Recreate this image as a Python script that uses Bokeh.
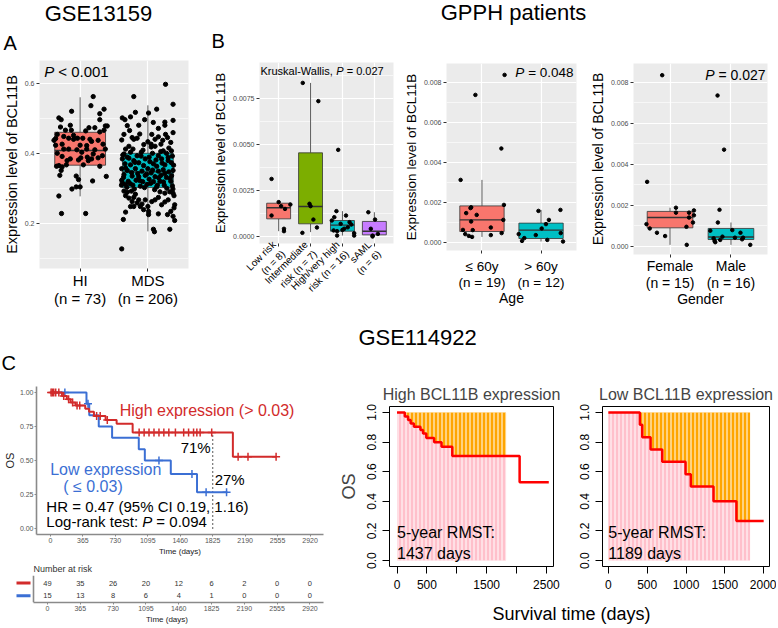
import math
import numpy as np
from bokeh.plotting import figure
from bokeh.layouts import column, row
from bokeh.models import Range1d, FixedTicker, PrintfTickFormatter, LinearAxis
from bokeh.core.properties import value
from bokeh.embed import file_html
from bokeh.resources import INLINE

FONT = "Liberation Sans"
BG = "#EBEBEB"
GG2 = ["#F8766D", "#00BFC4"]
GG4 = ["#F8766D", "#7CAE00", "#00BFC4", "#C77CFF"]
RED_KM = "#D22B2B"
BLUE_KM = "#3B6FD4"

# ---------------- Panel A: GSE13159 ----------------
a_groups = ["HI", "MDS"]
a_n = [73, 206]
a_q1 = [0.366, 0.302]
a_med = [0.408, 0.347]
a_q3 = [0.460, 0.400]
a_wlo = [0.277, 0.177]
a_whi = [0.560, 0.537]
# (jitter, value) pairs
a_hi_pts = [(0.193, 0.562), (0.159, 0.536), (0.353, 0.526), (0.290, 0.513), (-0.126, 0.520), (-0.314, 0.501),
            (-0.280, 0.496), (0.290, 0.496), (0.372, 0.478), (0.400, 0.478), (-0.290, 0.475), (-0.145, 0.480),
            (-0.217, 0.466), (-0.130, 0.466), (0.130, 0.473), (0.217, 0.473), (0.082, 0.464), (0.290, 0.461),
            (0.353, 0.466), (-0.338, 0.454), (-0.362, 0.442), (-0.386, 0.437), (-0.242, 0.448), (-0.169, 0.443),
            (-0.039, 0.443), (-0.097, 0.440), (0.039, 0.443), (0.145, 0.440), (0.169, 0.434), (0.266, 0.437),
            (-0.362, 0.423), (-0.266, 0.426), (0.0, 0.423), (0.097, 0.422), (-0.169, 0.412), (-0.048, 0.410),
            (0.097, 0.412), (0.217, 0.410), (0.372, 0.412), (-0.338, 0.400), (-0.145, 0.384), (0.010, 0.387),
            (-0.266, 0.391), (0.106, 0.389), (0.169, 0.384), (0.266, 0.387), (0.329, 0.393), (-0.024, 0.381),
            (0.121, 0.379), (-0.348, 0.363), (-0.314, 0.365), (-0.266, 0.361), (-0.203, 0.367), (0.048, 0.367),
            (0.290, 0.363), (-0.280, 0.351), (-0.300, 0.337), (-0.058, 0.335), (0.386, 0.334), (-0.024, 0.325),
            (0.184, 0.321), (-0.058, 0.304), (0.0, 0.304), (-0.121, 0.298), (-0.314, 0.278), (-0.275, 0.228),
            (0.082, 0.228), (-0.242, 0.412), (-0.097, 0.451), (0.193, 0.398), (0.338, 0.426), (-0.193, 0.379),
            (0.024, 0.403)]
a_mds_pts = [(0.261, 0.597), (-0.208, 0.562), (0.372, 0.540), (0.130, 0.526), (-0.184, 0.517), (-0.377, 0.501),
             (-0.338, 0.496), (-0.256, 0.504), (0.010, 0.515), (-0.048, 0.496), (0.251, 0.489), (0.372, 0.494),
             (-0.135, 0.480), (0.155, 0.471), (0.251, 0.480), (-0.304, 0.479), (-0.353, 0.454), (-0.386, 0.438),
             (-0.232, 0.445), (-0.159, 0.443), (-0.208, 0.440), (0.058, 0.454), (0.106, 0.440), (0.155, 0.447),
             (0.261, 0.454), (0.372, 0.459), (0.048, 0.426), (0.106, 0.420), (0.193, 0.426), (0.338, 0.431),
             (-0.280, 0.420), (-0.329, 0.412), (-0.072, 0.409), (0.0, 0.433), (0.227, 0.407), (0.348, 0.407),
             (-0.353, 0.398), (-0.256, 0.403), (-0.159, 0.393), (-0.097, 0.403), (0.068, 0.400), (0.155, 0.393),
             (0.275, 0.400), (0.362, 0.392), (-0.377, 0.384), (-0.304, 0.389), (-0.208, 0.379), (-0.039, 0.384),
             (0.019, 0.389), (0.203, 0.384), (0.300, 0.379), (-0.338, 0.370), (-0.256, 0.367), (-0.135, 0.373),
             (-0.063, 0.365), (0.082, 0.370), (0.130, 0.363), (0.251, 0.367), (0.348, 0.373), (-0.386, 0.356),
             (-0.304, 0.351), (-0.184, 0.356), (-0.087, 0.349), (0.0, 0.356), (0.048, 0.344), (0.155, 0.349),
             (0.227, 0.353), (0.309, 0.347), (0.372, 0.351), (-0.353, 0.339), (-0.232, 0.335), (-0.135, 0.333),
             (-0.039, 0.337), (0.106, 0.333), (0.193, 0.337), (0.275, 0.331), (-0.386, 0.323), (-0.290, 0.320),
             (-0.174, 0.323), (-0.077, 0.319), (0.019, 0.326), (0.082, 0.319), (0.179, 0.320), (0.338, 0.320),
             (-0.329, 0.311), (-0.222, 0.309), (-0.111, 0.306), (-0.014, 0.311), (0.130, 0.304), (0.242, 0.309),
             (0.362, 0.307), (-0.377, 0.316), (-0.390, 0.309), (-0.353, 0.292), (-0.304, 0.289), (-0.242, 0.292),
             (-0.184, 0.283), (-0.329, 0.279), (-0.280, 0.272), (-0.208, 0.274), (-0.135, 0.267), (-0.232, 0.262),
             (-0.159, 0.258), (-0.087, 0.255), (-0.039, 0.267), (0.058, 0.262), (0.106, 0.267), (0.155, 0.274),
             (0.251, 0.286), (0.372, 0.286), (0.386, 0.279), (0.324, 0.290), (0.179, 0.290), (0.300, 0.267),
             (0.396, 0.253), (0.386, 0.244), (0.338, 0.234), (0.251, 0.261), (-0.208, 0.248), (0.0, 0.248),
             (0.010, 0.234), (-0.329, 0.232), (0.155, 0.227), (0.290, 0.225), (0.372, 0.220), (-0.362, 0.211),
             (0.010, 0.225), (0.082, 0.183), (0.097, 0.176), (0.324, 0.183), (0.396, 0.208), (-0.386, 0.127),
             (-0.063, 0.239), (-0.111, 0.248), (-0.256, 0.248), (0.203, 0.253), (-0.37, 0.395), (-0.28, 0.386),
             (-0.19, 0.374), (-0.10, 0.392), (0.03, 0.376), (0.12, 0.381), (0.21, 0.372), (0.30, 0.388),
             (0.38, 0.366), (-0.33, 0.358), (-0.24, 0.345), (-0.15, 0.342), (-0.02, 0.340), (0.07, 0.352),
             (0.16, 0.330), (0.25, 0.342), (0.33, 0.328), (-0.36, 0.331), (-0.26, 0.313), (-0.12, 0.322),
             (0.04, 0.314), (0.14, 0.309), (0.23, 0.318), (0.35, 0.336), (-0.05, 0.302), (0.28, 0.300),
             (-0.20, 0.298), (0.10, 0.296), (0.37, 0.298), (-0.31, 0.303), (0.19, 0.405), (-0.22, 0.412),
             (0.05, 0.418), (0.31, 0.415), (-0.06, 0.425), (0.22, 0.437), (-0.12, 0.455), (0.29, 0.445),
             (-0.27, 0.465), (0.08, 0.488)]

# ---------------- Panel B: GPPH patients ----------------
b1_labels = ["Low risk\n(n = 8)", "Intermediate\nrisk (n = 7)", "High/very high\nrisk (n = 16)", "sAML\n(n = 6)"]
b1_q1 = [0.00096, 0.00069, 0.00029, 0.00009]
b1_med = [0.00156, 0.00163, 0.00062, 0.00029]
b1_q3 = [0.00181, 0.00455, 0.00087, 0.00082]
b1_wlo = [0.00029, 0.00024, 0.00005, 0.0]
b1_whi = [0.00187, 0.00835, 0.00138, 0.00132]
b1_pts = [
    [(-0.222, 0.00313), (-0.222, 0.00114), (0.0, 0.00187), (0.078, 0.00165), (0.2, 0.0015), (0.367, 0.00174),
     (0.167, 0.00042), (0.167, 0.00029)],
    [(-0.244, 0.00835), (0.244, 0.00736), (-0.033, 0.00178), (0.0, 0.00165), (0.089, 0.00092), (-0.256, 0.0002),
     (0.2, 0.00049)],
    [(-0.133, 0.00471), (-0.189, 0.00138), (0.111, 0.00114), (-0.333, 0.00087), (-0.256, 0.00105),
     (-0.056, 0.00069), (0.222, 0.00078), (0.278, 0.00065), (0.056, 0.00042), (-0.167, 0.00029),
     (-0.278, 0.00033), (0.367, 0.00018), (0.367, 0.00005), (0.167, 0.0005), (0.0, 0.00036), (-0.167, 0.00005)],
    [(-0.189, 0.00132), (0.022, 0.00092), (-0.111, 0.00042), (-0.056, 0.00005), (-0.056, 0.0), (0.111, 0.00014)],
]
b2_groups = ["\u2264 60y", "> 60y"]
b2_n = [19, 12]
b2_q1 = [0.00055, 0.00020]
b2_med = [0.00113, 0.00062]
b2_q3 = [0.00183, 0.00097]
b2_wlo = [0.00028, 0.00005]
b2_whi = [0.00313, 0.00163]
b2_pts = [
    [(-0.361, 0.00313), (-0.111, 0.00738), (0.328, 0.0047), (0.383, 0.00838), (-0.267, 0.00147),
     (-0.194, 0.00172), (-0.183, 0.00176), (-0.089, 0.00138), (-0.183, 0.00105), (-0.322, 0.00063),
     (-0.156, 0.00062), (-0.283, 0.00042), (-0.222, 0.00033), (-0.167, 0.00028), (0.15, 0.00075),
     (0.15, 0.00037), (0.372, 0.00188), (0.361, 0.00113), (0.333, 0.00047)],
    [(-0.378, 0.00042), (-0.044, 0.00158), (0.328, 0.00163), (0.133, 0.00113), (0.083, 0.00092), (0.011, 0.0007),
     (-0.089, 0.00037), (-0.283, 0.00022), (-0.322, 0.00008), (0.106, 0.00013), (0.333, 0.00047),
     (0.372, 0.00005)],
]
b3_groups = ["Female", "Male"]
b3_n = [15, 16]
b3_q1 = [0.00091, 0.00034]
b3_med = [0.00141, 0.00046]
b3_q3 = [0.00171, 0.00088]
b3_wlo = [0.00008, 0.00008]
b3_whi = [0.00189, 0.00117]
b3_pts = [
    [(-0.129, 0.00835), (-0.376, 0.00315), (-0.387, 0.00109), (-0.333, 0.00088), (-0.215, 0.00067),
     (-0.081, 0.00051), (0.097, 0.00189), (0.097, 0.00165), (0.312, 0.00165), (0.312, 0.00141),
     (0.392, 0.00176), (0.392, 0.00152), (0.376, 0.00117), (0.269, 0.00096), (0.274, 0.00008)],
    [(-0.220, 0.00736), (-0.113, 0.00472), (-0.188, 0.00179), (-0.215, 0.00117), (-0.339, 0.00077),
     (-0.285, 0.0004), (-0.269, 0.00027), (-0.177, 0.00032), (-0.140, 0.00048), (-0.258, 0.00021),
     (0.022, 0.0008), (0.065, 0.00043), (0.156, 0.00067), (0.199, 0.00043), (0.183, 0.00035), (0.317, 0.00008)],
]

# ---------------- Panel C: GSE114922 ----------------
km_high_t = [0, 130, 185, 228, 283, 392, 435, 490, 621, 745, 925, 2052]
km_high_s = [1.0, 0.973, 0.949, 0.926, 0.904, 0.881, 0.858, 0.827, 0.798, 0.769, 0.706, 0.528]
km_high_end = 2540
km_high_cens = [8, 22, 38, 60, 95, 150, 205, 250, 300, 330, 520, 560, 640, 998, 1054, 1109, 1165, 1221, 1276,
                1332, 1406, 1499, 1554, 1610, 1647, 1684, 1814, 2111, 2222, 2538]
km_low_t = [0, 406, 437, 544, 694, 994, 1062, 1354, 1649]
km_low_s = [1.0, 0.917, 0.833, 0.75, 0.667, 0.583, 0.5, 0.4, 0.267]
km_low_end = 1990
km_low_cens = [163, 423, 1221, 1592, 1751, 1981]
risk_times = [0, 365, 730, 1095, 1460, 1825, 2190, 2555, 2920]
risk_high = [49, 35, 26, 20, 12, 6, 2, 0, 0]
risk_low = [15, 13, 8, 6, 4, 1, 0, 0, 0]
rmst_tau = 1825
rmst_high_days = 1437
rmst_low_days = 1189


def surv_at(ts, ss, tq):
    idx = np.searchsorted(np.asarray(ts, dtype=float), np.asarray(tq, dtype=float), side="right") - 1
    return list(np.asarray(ss)[idx])


def step_poly(ts, ss, tmax):
    xs, ys = [], []
    for i, (t, s) in enumerate(zip(ts, ss)):
        if t > tmax:
            break
        if i > 0:
            xs.append(t)
            ys.append(ys[-1])
        xs.append(t)
        ys.append(s)
    xs.append(tmax)
    ys.append(ys[-1])
    return xs, ys


def blank(width, height):
    p = figure(width=width, height=height, x_range=Range1d(0, width), y_range=Range1d(height, 0),
               x_axis_type=None, y_axis_type=None, output_backend="svg", toolbar_location=None,
               min_border=0)
    p.outline_line_color = None
    return p


def box(f):
    # isolate each figure so that Bokeh does not align frames across siblings
    return column(f, width=f.width, height=f.height)


def txt(p, x, y, s, size, color="black", align="left", italic=False, x_offset=0, baseline="middle"):
    p.text(x=[x], y=[y], text=[s], text_font=value(FONT), text_font_size=size, text_color=color,
           text_align=align, text_baseline=baseline, text_font_style="italic" if italic else "normal",
           x_offset=x_offset)


def gg_panel(width, height, bl, br, bt, bb, labels, yr, yticks, yminor, yfmt, ylab, ylab_size, xlab_size,
             q1, med, q3, wlo, whi, colors, pts, pt_size, labels2=None, stand=(1, 0, 0), xlab=None,
             orient=None):
    n = len(labels)
    p = figure(width=width, height=height, x_range=Range1d(0.4, n + 0.6), y_range=Range1d(*yr),
               output_backend="svg", toolbar_location=None,
               min_border_left=bl, min_border_right=br, min_border_top=bt, min_border_bottom=bb)
    p.background_fill_color = BG
    p.outline_line_color = None
    xs = list(range(1, n + 1))
    xa = p.xaxis[0]
    ya = p.yaxis[0]
    xa.ticker = FixedTicker(ticks=xs)
    xa.major_label_overrides = {i: lab for i, lab in zip(xs, labels)}
    ya.ticker = FixedTicker(ticks=yticks, minor_ticks=yminor)
    ya.formatter = PrintfTickFormatter(format=yfmt)
    p.xgrid.grid_line_color = "white"
    p.xgrid.grid_line_width = 1.2
    p.ygrid.grid_line_color = "white"
    p.ygrid.grid_line_width = 1.2
    p.ygrid.minor_grid_line_color = "white"
    p.ygrid.minor_grid_line_width = 0.6
    for ax in (xa, ya):
        ax.axis_line_color = None
        ax.major_tick_line_color = "#333333"
        ax.major_tick_in = 0
        ax.major_tick_out = 3
        ax.minor_tick_line_color = None
        ax.major_label_text_font = FONT
        ax.axis_label_text_font = FONT
        ax.axis_label_text_font_style = "normal"
        ax.axis_label_text_color = "black"
    ya.major_label_text_font_size = "7px"
    ya.major_label_text_color = "#4D4D4D"
    ya.major_label_standoff = 1
    ya.axis_label = ylab
    ya.axis_label_text_font_size = ylab_size
    ya.axis_label_standoff = 2
    xa.major_label_text_font_size = xlab_size
    xa.major_label_text_color = "black"
    xa.major_label_standoff = stand[0]
    if orient is not None:
        xa.major_label_orientation = orient
    last = xa
    if labels2 is not None:
        ax2 = LinearAxis(ticker=FixedTicker(ticks=xs),
                         major_label_overrides={i: lab for i, lab in zip(xs, labels2)},
                         axis_line_color=None, major_tick_line_color=None, minor_tick_line_color=None,
                         major_tick_in=0, major_tick_out=0, major_label_standoff=stand[1],
                         major_label_text_font=FONT, major_label_text_font_size=xlab_size,
                         major_label_text_color="black")
        p.add_layout(ax2, "below")
        last = ax2
    if xlab:
        last.axis_label = xlab
        last.axis_label_text_font = FONT
        last.axis_label_text_font_style = "normal"
        last.axis_label_text_color = "black"
        last.axis_label_text_font_size = "14px"
        last.axis_label_standoff = stand[2]
    # boxplots
    p.segment(x0=xs, y0=wlo, x1=xs, y1=q1, line_color="#333333", line_width=0.8)
    p.segment(x0=xs, y0=q3, x1=xs, y1=whi, line_color="#333333", line_width=0.8)
    p.vbar(x=xs, width=0.75, bottom=q1, top=q3, fill_color=colors, line_color="#333333", line_width=0.8)
    p.segment(x0=[x - 0.375 for x in xs], y0=med, x1=[x + 0.375 for x in xs], y1=med,
              line_color="#333333", line_width=1.4)
    # jittered points
    px, py = [], []
    for g, grp in enumerate(pts):
        for j, v in grp:
            px.append(g + 1 + j)
            py.append(v)
    p.scatter(x=px, y=py, size=pt_size, color="black")
    return p


def n_labels(ns):
    return ["(n = %d)" % k for k in ns]


# ---- header (row 1 titles) ----
head1 = blank(776, 56)
txt(head1, 98, 13, "GSE13159", "22px", align="center")
txt(head1, 513, 12, "GPPH patients", "22px", align="center")
txt(head1, 3, 42, "A", "20px")
txt(head1, 211, 40, "B", "20px")

ROW1_H = 253
# ---- Panel A ----
figA = gg_panel(205, ROW1_H, 33, 17, 4, ROW1_H - 4 - 212, a_groups, (0.071, 0.665), [0.2, 0.4, 0.6],
                [0.1, 0.3, 0.5], "%.1f", "Expression level of BCL11B", "14.5px", "15px",
                a_q1, a_med, a_q3, a_wlo, a_whi, GG2, [a_hi_pts, a_mds_pts], 4.3,
                labels2=n_labels(a_n), stand=(0, -2, 0))
txt(figA, 0.47, 0.634, "P", "15px", italic=True)
txt(figA, 0.47, 0.634, "< 0.001", "15px", x_offset=14)

# ---- Panel B1 ----
figB1 = gg_panel(195, ROW1_H + 6, 54, 7, 6, ROW1_H + 6 - 6 - 181, b1_labels, (-0.00038, 0.00946),
                 [0, 0.0025, 0.005, 0.0075], [0.00125, 0.00375, 0.00625, 0.00875], "%.4f",
                 "Expression level of BCL11B", "13px", "10px",
                 b1_q1, b1_med, b1_q3, b1_wlo, b1_whi, GG4, b1_pts, 3.5, orient=math.pi / 4)
txt(figB1, 0.43, 0.00902, "Kruskal-Wallis,", "11px")
txt(figB1, 0.43, 0.00902, "P", "11px", italic=True, x_offset=75.8)
txt(figB1, 0.43, 0.00902, "= 0.027", "11px", x_offset=86.2)

# ---- Panel B2 ----
figB2 = gg_panel(186, ROW1_H, 40, 10, 7, ROW1_H - 7 - 187, b2_groups, (-0.0004, 0.00895),
                 [0, 0.002, 0.004, 0.006, 0.008], [0.001, 0.003, 0.005, 0.007], "%.3f",
                 "Expression level of BCL11B", "13.5px", "13.5px",
                 b2_q1, b2_med, b2_q3, b2_wlo, b2_whi, GG2, b2_pts, 3.5, labels2=n_labels(b2_n),
                 stand=(5, -2, -3), xlab="Age")
txt(figB2, 1.565, 0.00852, "P", "13.5px", italic=True)
txt(figB2, 1.565, 0.00852, "= 0.048", "13.5px", x_offset=12.8)

# ---- Panel B3 ----
figB3 = gg_panel(190, ROW1_H, 44, 9, 7, ROW1_H - 7 - 193, b3_groups, (-0.00039, 0.00892),
                 [0, 0.002, 0.004, 0.006, 0.008], [0.001, 0.003, 0.005, 0.007], "%.3f",
                 "Expression level of BCL11B", "14px", "14px",
                 b3_q1, b3_med, b3_q3, b3_wlo, b3_whi, GG2, b3_pts, 3.5, labels2=n_labels(b3_n),
                 stand=(0, -2, -3), xlab="Gender")
txt(figB3, 1.577, 0.00837, "P", "14px", italic=True)
txt(figB3, 1.577, 0.00837, "= 0.027", "14px", x_offset=13.2)

# ---- header (row 2 titles) ----
ROW2_Y = 375
HEAD2_Y = 56 + ROW1_H + 6
head2 = blank(776, ROW2_Y - HEAD2_Y)
txt(head2, 417, 337 - HEAD2_Y, "GSE114922", "22px", align="center")
txt(head2, 1, 362 - HEAD2_Y, "C", "20px")

# ---- Kaplan-Meier ----
KM_X = (-156, 3071)
KM_FRAME_W = 290
AX_GRAY = "#8A8A8A"


def km_axes(p):
    for ax in p.axis:
        ax.axis_line_color = AX_GRAY
        ax.axis_line_width = 1.6
        ax.major_tick_line_color = AX_GRAY
        ax.major_tick_in = 0
        ax.major_tick_out = 2
        ax.minor_tick_line_color = None
        ax.major_label_text_font = FONT
        ax.major_label_text_font_size = "7px"
        ax.major_label_text_color = "#555555"
        ax.major_label_standoff = 1
        ax.axis_label_text_font = FONT
        ax.axis_label_text_font_style = "normal"
        ax.axis_label_text_color = "#222222"
        ax.axis_label_standoff = 1


km = figure(width=335, height=183, x_range=Range1d(*KM_X), y_range=Range1d(-0.0435, 1.0435),
            output_backend="svg", toolbar_location=None,
            min_border_left=33, min_border_right=12, min_border_top=386 - ROW2_Y, min_border_bottom=22)
km.outline_line_color = None
km.grid.grid_line_color = None
km.xaxis.ticker = FixedTicker(ticks=risk_times)
km.yaxis.ticker = FixedTicker(ticks=[0, 0.25, 0.5, 0.75, 1.0])
km.yaxis.formatter = PrintfTickFormatter(format="%.2f")
km_axes(km)
km.xaxis.axis_label = "Time (days)"
km.xaxis.axis_label_text_font_size = "8px"
km.yaxis.axis_label = "OS"
km.yaxis.axis_label_text_font_size = "11px"

km.segment(x0=[rmst_tau], y0=[0], x1=[rmst_tau], y1=surv_at(km_high_t, km_high_s, [rmst_tau]),
           line_color="black", line_dash="1 3", line_width=1.3)
for ts, ss, end, cens, col in ((km_low_t, km_low_s, km_low_end, km_low_cens, BLUE_KM),
                               (km_high_t, km_high_s, km_high_end, km_high_cens, RED_KM)):
    km.step(x=ts + [end], y=ss + [ss[-1]], mode="after", line_color=col, line_width=2)
    km.scatter(x=cens, y=surv_at(ts, ss, cens), marker="cross", size=8, line_color=col, line_width=1.5)

txt(km, 779, 0.87, "High expression (> 0.03)", "16px", color=RED_KM)
txt(km, 623, 0.435, "Low expression", "16px", color=BLUE_KM, align="center")
txt(km, 479, 0.31, "( \u2264 0.03)", "16px", color=BLUE_KM, align="center")
txt(km, rmst_tau, 0.594, "71%", "15px", align="right", x_offset=-2)
txt(km, rmst_tau, 0.36, "27%", "15px", x_offset=2)
txt(km, -45, 0.16, "HR = 0.47 (95% CI 0.19, 1.16)", "15px")
txt(km, -45, 0.05, "Log-rank test:", "15px")
txt(km, -45, 0.05, "P", "15px", italic=True, x_offset=95.8)
txt(km, -45, 0.05, "= 0.094", "15px", x_offset=110)

# ---- Number at risk ----
dpp = (KM_X[1] - KM_X[0]) / float(KM_FRAME_W)
risk_x0 = KM_X[0] - 23 * dpp
rk = figure(width=335, height=68, x_range=Range1d(risk_x0, KM_X[1]), y_range=Range1d(-0.033, 2.1),
            output_backend="svg", toolbar_location=None, title="Number at risk", y_axis_location=None,
            min_border_left=10, min_border_right=12, min_border_top=17, min_border_bottom=19)
rk.title.align = "left"
rk.title.offset = 23
rk.title.text_font = FONT
rk.title.text_font_size = "9px"
rk.title.text_font_style = "normal"
rk.title.text_color = "#333333"
rk.title.standoff = 3
rk.outline_line_color = None
rk.grid.grid_line_color = None
rk.xaxis.ticker = FixedTicker(ticks=risk_times)
rk.xaxis.bounds = KM_X
km_axes(rk)
rk.xaxis.axis_label = "Time (days)"
rk.xaxis.axis_label_text_font_size = "8px"
rk.segment(x0=[KM_X[0]], y0=[-0.033], x1=[KM_X[0]], y1=[2.1], line_color=AX_GRAY, line_width=1.6)
rk.segment(x0=[risk_x0 + 6 * dpp] * 2, y0=[1.5, 0.5], x1=[risk_x0 + 20 * dpp] * 2, y1=[1.5, 0.5],
           line_color=[RED_KM, BLUE_KM], line_width=3)
rk.text(x=risk_times, y=[1.5] * len(risk_times), text=[str(v) for v in risk_high], text_font=value(FONT),
        text_font_size="7.5px", text_color="#333333", text_align="center", text_baseline="middle")
rk.text(x=risk_times, y=[0.5] * len(risk_times), text=[str(v) for v in risk_low], text_font=value(FONT),
        text_font_size="7.5px", text_color="#333333", text_align="center", text_baseline="middle")


# ---- RMST panels ----
def rmst_panel(width, bl, br, title, title_off, ts, ss, end, xr, xticks, hide, rmst_days, ylabel):
    p = figure(width=width, height=225, x_range=Range1d(*xr), y_range=Range1d(-0.04, 1.04),
               output_backend="svg", toolbar_location=None, title=title,
               min_border_left=bl, min_border_right=br, min_border_top=406 - ROW2_Y, min_border_bottom=34)
    p.title.align = "center"
    p.title.offset = title_off
    p.title.text_font = FONT
    p.title.text_font_size = "16px"
    p.title.text_font_style = "normal"
    p.title.standoff = 7
    p.outline_line_color = "black"
    p.outline_line_width = 1
    p.grid.grid_line_color = None
    p.xaxis.ticker = FixedTicker(ticks=xticks)
    p.xaxis.major_label_overrides = {t: "" for t in hide}
    p.yaxis.ticker = FixedTicker(ticks=[0, 0.2, 0.4, 0.6, 0.8, 1.0])
    p.yaxis.formatter = PrintfTickFormatter(format="%.1f")
    p.yaxis.major_label_orientation = "vertical"
    for ax in p.axis:
        ax.axis_line_color = None
        ax.major_tick_line_color = "black"
        ax.major_tick_in = 0
        ax.major_tick_out = 7
        ax.minor_tick_line_color = None
        ax.major_label_text_font = FONT
        ax.major_label_text_font_size = "12px"
        ax.major_label_text_color = "black"
        ax.major_label_standoff = 6
    if ylabel:
        p.yaxis.axis_label = ylabel
        p.yaxis.axis_label_text_font = FONT
        p.yaxis.axis_label_text_font_size = "18px"
        p.yaxis.axis_label_text_font_style = "normal"
        p.yaxis.axis_label_standoff = 6
    xs, ys = step_poly(ts, ss, rmst_tau)
    p.varea(x=xs, y1=0, y2=ys, fill_color="pink", hatch_pattern="|", hatch_color="white",
            hatch_weight=1, hatch_scale=4)
    p.varea(x=xs, y1=ys, y2=1, fill_color="orange", hatch_pattern="|", hatch_color="white",
            hatch_weight=1, hatch_scale=4)
    p.step(x=ts + [end], y=ss + [ss[-1]], mode="after", line_color="red", line_width=2.5)
    txt(p, 0, 0.19, "5-year RMST:", "16px")
    txt(p, 0, 0.05, "%d days" % rmst_days, "16px")
    return p


figH = rmst_panel(225, 50, 7, "High BCL11B expression", -9, km_high_t, km_high_s, km_high_end, (-126, 2619),
                  [0, 500, 1000, 1500, 2000, 2500], [1000, 2000], rmst_high_days, "OS")
figL = rmst_panel(216, 42, 7, "Low BCL11B expression", -8, km_low_t, km_low_s, 2000, (-75, 2075),
                  [0, 500, 1000, 1500, 2000], [], rmst_low_days, None)
foot = blank(441, 26)
txt(foot, 236, 13, "Survival time (days)", "18px", align="center")

layout = column(
    box(head1),
    row(box(figA), box(figB1), box(figB2), box(figB3)),
    box(head2),
    row(column(box(km), box(rk)), column(row(box(figH), box(figL)), box(foot))),
)

open("out.html", "w").write(file_html(layout, INLINE))
